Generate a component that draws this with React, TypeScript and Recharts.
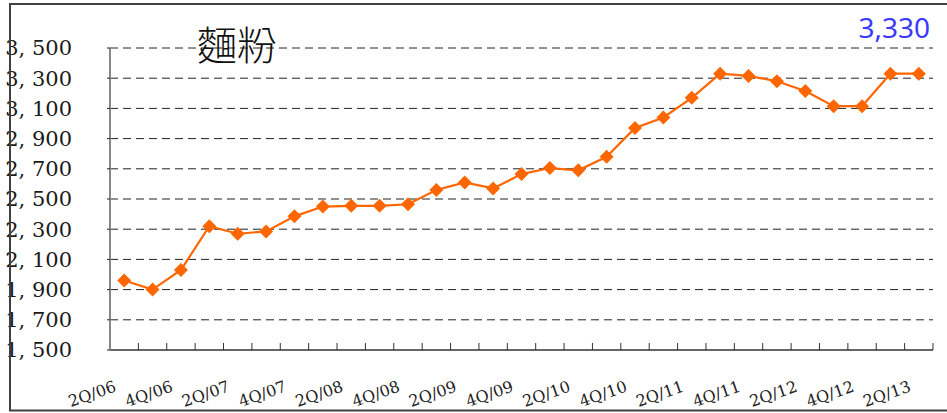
import { LineChart, Line, XAxis, YAxis, CartesianGrid } from 'recharts'

const quarters = [
  '2Q/06', '3Q/06', '4Q/06',
  '1Q/07', '2Q/07', '3Q/07', '4Q/07',
  '1Q/08', '2Q/08', '3Q/08', '4Q/08',
  '1Q/09', '2Q/09', '3Q/09', '4Q/09',
  '1Q/10', '2Q/10', '3Q/10', '4Q/10',
  '1Q/11', '2Q/11', '3Q/11', '4Q/11',
  '1Q/12', '2Q/12', '3Q/12', '4Q/12',
  '1Q/13', '2Q/13',
]

const flourPrice = [
  1960, 1900, 2030,
  2320, 2270, 2285, 2385,
  2450, 2455, 2455, 2465,
  2560, 2610, 2570, 2665,
  2705, 2690, 2780, 2970,
  3040, 3170, 3330, 3315,
  3280, 3215, 3115, 3115,
  3330, 3330,
]

const yTicks = [1500, 1700, 1900, 2100, 2300, 2500, 2700, 2900, 3100, 3300, 3500]
const boundaryTicks = Array.from({ length: quarters.length + 1 }, (_, i) => i)

const TITLE = '麵粉'
const LATEST = '3,330'

const ORANGE = '#FF6600'
const W = 947
const H = 413

const data = quarters.map((q, i) => ({ q, idx: i, price: flourPrice[i] }))

const fmtY = (v: number) => `${Math.floor(v / 1000)}, ${String(v % 1000).padStart(3, '0')}`

function Diamond(props: any) {
  const { cx, cy } = props
  if (cx == null || cy == null) return null
  const r = 7
  return (
    <path
      d={`M${cx},${cy - r}L${cx + r},${cy}L${cx},${cy + r}L${cx - r},${cy}Z`}
      fill={ORANGE}
      stroke="none"
    />
  )
}

function NoLabel() {
  return <g />
}

function QuarterTick(props: any) {
  const { x, y, payload } = props
  return (
    <g transform={`translate(${x - 7},${y + 41})`}>
      <text
        textAnchor="end"
        transform="rotate(-19)"
        fontFamily="DejaVu Serif"
        fontSize={16}
        fill="#222"
      >
        {payload.value}
      </text>
    </g>
  )
}

export default function App() {
  return (
    <div style={{ position: 'absolute', left: 0, top: 0, width: W, height: H, background: '#fff' }}>
      <LineChart
        width={W}
        height={H}
        data={data}
        margin={{ top: 48, right: 14, bottom: 0, left: 0 }}
      >
        <CartesianGrid
          horizontal
          vertical={false}
          stroke="#222"
          strokeDasharray="8 5"
          horizontalValues={yTicks.slice(1)}
        />
        <XAxis
          xAxisId="bounds"
          dataKey="idx"
          type="number"
          domain={[0, quarters.length]}
          ticks={boundaryTicks}
          allowDataOverflow
          height={1}
          mirror
          tick={<NoLabel />}
          tickSize={7}
          tickLine={{ stroke: '#333' }}
          axisLine={{ stroke: '#333', strokeWidth: 1.5 }}
        />
        <XAxis
          xAxisId="q"
          dataKey="q"
          scale="band"
          interval={1}
          height={63}
          axisLine={false}
          tickLine={false}
          tickSize={0}
          tickMargin={0}
          tick={<QuarterTick />}
        />
        <YAxis
          domain={[1500, 3500]}
          ticks={yTicks}
          width={110}
          tickFormatter={fmtY}
          tickSize={3}
          tickMargin={35}
          axisLine={{ stroke: '#888', strokeWidth: 2 }}
          tickLine={{ stroke: '#222' }}
          tick={{ fontFamily: 'DejaVu Serif', fontSize: 21, fill: '#1a1a1a' }}
        />
        <Line
          xAxisId="q"
          dataKey="price"
          stroke={ORANGE}
          strokeWidth={2.2}
          dot={<Diamond />}
          activeDot={false}
          isAnimationActive={false}
        />
      </LineChart>
      <svg
        width={W}
        height={H}
        style={{ position: 'absolute', left: 0, top: 0, pointerEvents: 'none' }}
      >
        <text x={197} y={60} fontFamily="Noto Sans CJK TC" fontSize={40} fontWeight={300} fill="#111">
          {TITLE}
        </text>
        <text x={930} y={38} textAnchor="end" fontFamily="Noto Sans" fontSize={28} fill="#3a3aff">
          {LATEST}
        </text>
        <path d={`M${W},4H10V410.5H${W}`} fill="none" stroke="#404040" strokeWidth={2} />
      </svg>
    </div>
  )
}
